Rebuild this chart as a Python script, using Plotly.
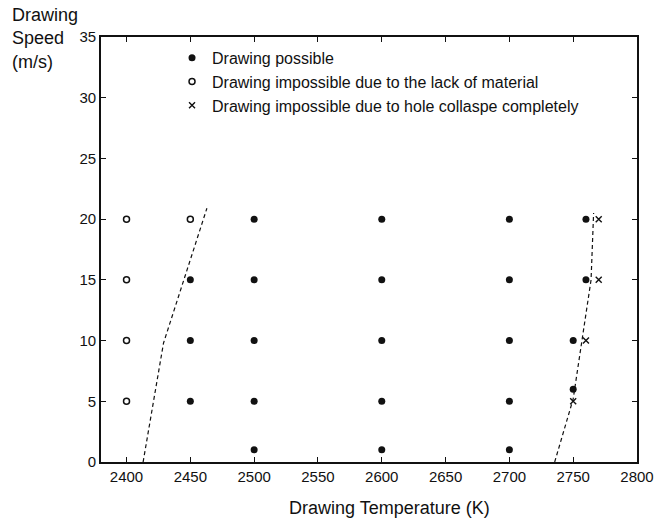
import plotly.graph_objects as go

# ---- data ----
possible_T = [2450, 2450, 2450,
              2500, 2500, 2500, 2500, 2500,
              2600, 2600, 2600, 2600, 2600,
              2700, 2700, 2700, 2700, 2700,
              2750, 2750, 2760, 2760]
possible_v = [5, 10, 15,
              1, 5, 10, 15, 20,
              1, 5, 10, 15, 20,
              1, 5, 10, 15, 20,
              6, 10, 15, 20]

lack_T = [2400, 2400, 2400, 2400, 2450]
lack_v = [5, 10, 15, 20, 20]

collapse_T = [2750, 2760, 2770, 2770]
collapse_v = [5, 10, 15, 20]

left_bound_T = [2413, 2429, 2463]
left_bound_v = [0, 9.8, 20.9]

right_bound_T = [2735.5, 2750, 2764, 2766]
right_bound_v = [0, 5.2, 15, 20.5]

x_ticks = [2400, 2450, 2500, 2550, 2600, 2650, 2700, 2750, 2800]
y_ticks = [0, 5, 10, 15, 20, 25, 30, 35]

FONT = "Liberation Sans, Arial, sans-serif"
INK = "#111111"

fig = go.Figure()

fig.add_trace(go.Scatter(
    x=left_bound_T, y=left_bound_v, mode="lines",
    line=dict(color=INK, width=1.2, dash="4px,3px"), showlegend=False, hoverinfo="skip"))
fig.add_trace(go.Scatter(
    x=right_bound_T, y=right_bound_v, mode="lines",
    line=dict(color=INK, width=1.2, dash="4px,3px"), showlegend=False, hoverinfo="skip"))

fig.add_trace(go.Scatter(
    x=possible_T, y=possible_v, mode="markers", name="Drawing possible",
    marker=dict(symbol="circle", size=7, color=INK)))
fig.add_trace(go.Scatter(
    x=lack_T, y=lack_v, mode="markers",
    name="Drawing impossible due to the lack of material",
    marker=dict(symbol="circle-open", size=6, color=INK, line=dict(width=1.5, color=INK))))
fig.add_trace(go.Scatter(
    x=collapse_T, y=collapse_v, mode="markers",
    name="Drawing impossible due to hole collaspe completely",
    marker=dict(symbol="x-thin", size=6, color=INK, line=dict(width=1.4, color=INK))))

axis_common = dict(
    showline=True, linewidth=1.6, linecolor=INK, mirror="ticks",
    ticks="inside", ticklen=5, tickwidth=1.2, tickcolor=INK,
    showgrid=False, zeroline=False,
    tickfont=dict(family=FONT, size=15, color=INK),
)

fig.update_xaxes(range=[2380, 2800], tickvals=x_ticks, **axis_common)
fig.update_yaxes(range=[0, 35], tickvals=y_ticks, **axis_common)

fig.update_layout(
    width=671, height=522,
    margin=dict(l=101, r=34, t=37, b=60),
    paper_bgcolor="white", plot_bgcolor="white",
    font=dict(family=FONT, color=INK),
    legend=dict(
        x=0.1325, xanchor="left", y=0.991, yanchor="top",
        bgcolor="rgba(0,0,0,0)", borderwidth=0,
        font=dict(family=FONT, size=16, color=INK),
    ),
    annotations=[
        dict(text="Drawing Temperature (K)", xref="paper", yref="paper",
             x=0.539, y=-0.109, xanchor="center", yanchor="middle",
             showarrow=False, font=dict(family=FONT, size=18, color=INK)),
        dict(text="Drawing<br>Speed<br>(m/s)", xref="paper", yref="paper",
             x=-0.1697, y=1.081, xanchor="left", yanchor="top", align="left",
             showarrow=False, font=dict(family=FONT, size=18, color=INK)),
    ],
)

fig.write_html("out.html", config={"displayModeBar": False},
               post_script="document.body.style.margin='0px';document.body.style.overflow='hidden';")
